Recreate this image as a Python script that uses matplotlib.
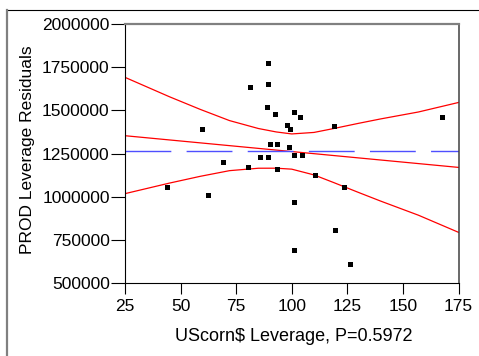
"""Leverage plot: resíduos de PROD contra a alavancagem de UScorn$."""

import matplotlib
matplotlib.use("Agg")
import matplotlib.pyplot as plt
from matplotlib.lines import Line2D

plt.rcParams["font.family"] = ["Liberation Sans", "DejaVu Sans"]

# pontos (alavancagem de UScorn$, resíduo de alavancagem de PROD)
uscorn_lev = [89.5, 89.5, 81.3, 59.5, 88.8, 92.6, 100.8, 103.8, 97.8, 99.3,
              118.8, 90.3, 93.3, 98.6, 69.3, 85.8, 89.5, 100.8, 104.6, 80.5,
              93.3, 110.6, 43.8, 62.5, 123.3, 100.8, 119.6, 100.8, 126.4, 167.6]
prod_resid = [1772400, 1654300, 1635100, 1393600, 1519300, 1480500, 1490400,
              1461400, 1413300, 1393600, 1411000, 1306800, 1306800, 1287600,
              1200800, 1229700, 1229700, 1239600, 1239600, 1171800, 1162000,
              1123800, 1056000, 1007900, 1056000, 969100, 805200, 689400,
              611800, 1461400]

# reta ajustada, média e curvas de confiança
fit_x = [25, 175]
fit_y = [1353000, 1169500]
mean_resid = 1266000
band_x = [25, 45, 58.8, 72, 85, 93, 100, 110, 119, 130, 140, 157, 175]
band_upper = [1691000, 1578600, 1505700, 1440600, 1394700, 1374900, 1363300,
              1372000, 1395000, 1424600, 1450300, 1490500, 1545500]
band_lower = [1017500, 1078600, 1117700, 1150600, 1164700, 1164900, 1159300,
              1126000, 1081000, 1024600, 974300, 892500, 793500]

x_ticks = [25, 50, 75, 100, 125, 150, 175]
y_ticks = [500000, 750000, 1000000, 1250000, 1500000, 1750000, 2000000]

W, H = 479, 356
fig = plt.figure(figsize=(W / 100, H / 100), dpi=100)
ax = fig.add_axes([125 / W, 1 - 283 / H, 333.5 / W, 259 / H])

ax.plot(band_x, band_upper, color="#ff0000", lw=0.9)
ax.plot(band_x, band_lower, color="#ff0000", lw=0.9)
ax.plot(fit_x, fit_y, color="#ff0000", lw=0.9)
ax.axhline(mean_resid, color="#4f4fff", lw=1.0, dashes=(33, 11))
ax.plot(uscorn_lev, prod_resid, "s", color="black", ms=3.6, mew=0)

ax.set_xlim(25, 175)
ax.set_ylim(500000, 2000000)
ax.set_xticks(x_ticks)
ax.set_yticks(y_ticks)
ax.set_xticklabels([str(v) for v in x_ticks])
ax.set_yticklabels([str(v) for v in y_ticks])
ax.tick_params(direction="out", width=0.8, labelsize=12.5, colors="black")
ax.tick_params(axis="y", length=10, pad=1)
ax.tick_params(axis="x", length=8, pad=3.5)

for s in ("left", "bottom"):
    ax.spines[s].set_color("black")
    ax.spines[s].set_linewidth(0.8)
ax.spines["top"].set_color("#808080")
ax.spines["top"].set_linewidth(1.6)
ax.spines["right"].set_color("#404040")
ax.spines["right"].set_linewidth(1.1)

fig.text(28 / W, 1 - 150 / H, "PROD Leverage Residuals", rotation=90,
         ha="center", va="center", fontsize=12.5)
fig.text(294 / W, 1 - 341 / H, "UScorn$ Leverage, P=0.5972",
         ha="center", va="baseline", fontsize=13)

# moldura externa: linha superior preta e lateral esquerda cinza
fig.add_artist(Line2D([7 / W, 1], [1 - 10 / H, 1 - 10 / H],
                      transform=fig.transFigure, color="black", lw=0.8))
fig.add_artist(Line2D([7 / W, 7 / W], [0, 1 - 10 / H],
                      transform=fig.transFigure, color="#808080", lw=1.6))

fig.savefig("out.png", dpi=100)
